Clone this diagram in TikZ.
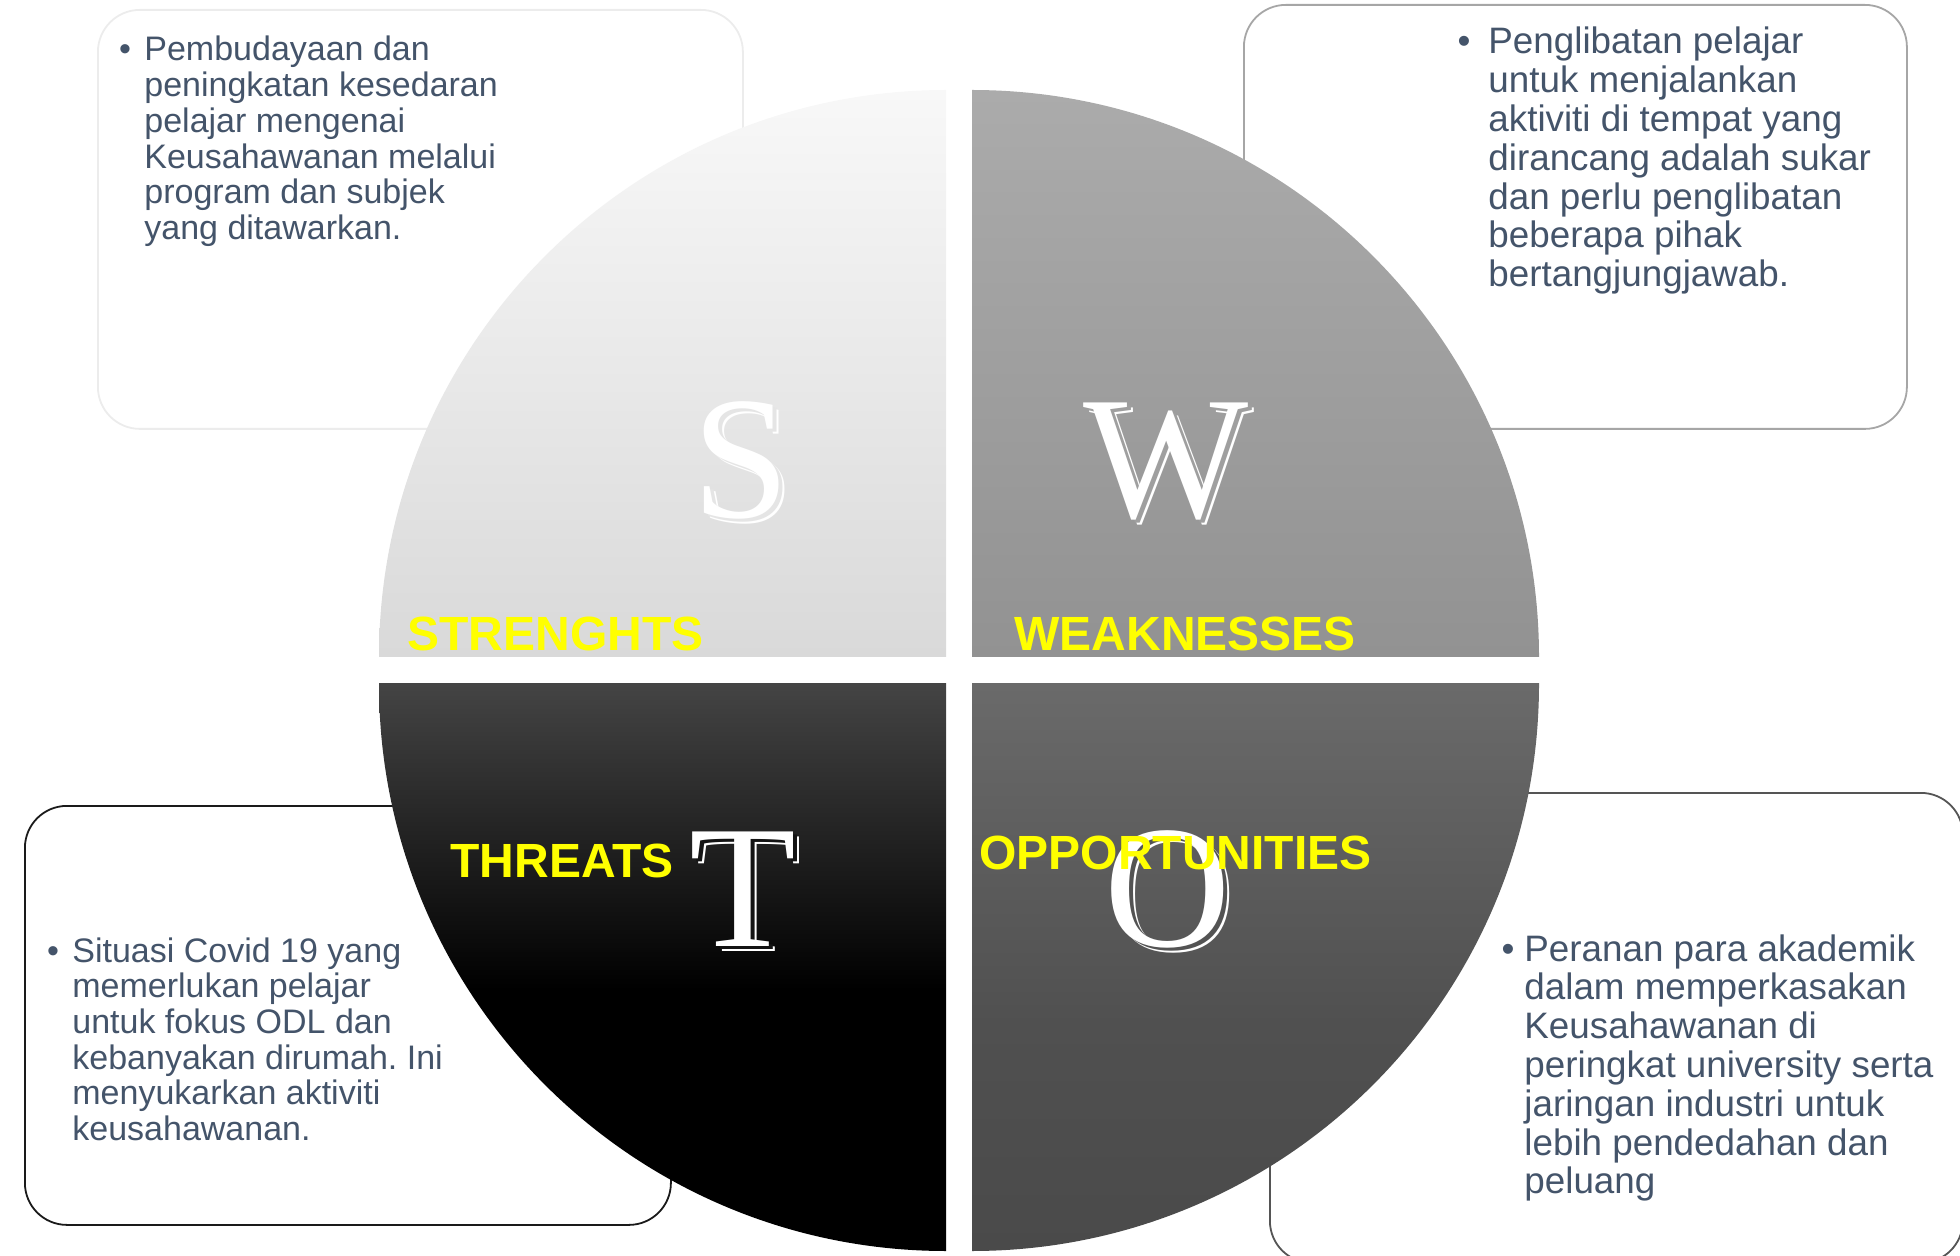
\documentclass[tikz,border=0pt]{standalone}
\usepackage{fontspec}
\setmainfont{Liberation Sans}
\newfontfamily\letterfont{Liberation Serif}
\frenchspacing
\definecolor{txt}{HTML}{44546A}
\definecolor{yel}{HTML}{FFFF00}
\definecolor{sTop}{HTML}{F8F8F8}
\definecolor{sBot}{HTML}{D9D9D9}
\definecolor{wTop}{HTML}{ABABAB}
\definecolor{wBot}{HTML}{929292}
\definecolor{tTop}{HTML}{444444}
\definecolor{oTop}{HTML}{6A6A6A}
\definecolor{oMid}{HTML}{505050}
\definecolor{oBot}{HTML}{4A4A4A}
\definecolor{boxS}{HTML}{ECECEC}
\definecolor{boxW}{HTML}{A6A6A6}
\definecolor{boxT}{HTML}{1A1A1A}
\definecolor{boxO}{HTML}{555555}
\pgfdeclareverticalshading{tshade}{100bp}{color(0bp)=(black); color(25bp)=(black); color(48bp)=(black); color(75bp)=(tTop); color(100bp)=(tTop)}
\pgfdeclareverticalshading{oshade}{100bp}{color(0bp)=(oBot); color(25bp)=(oBot); color(45bp)=(oMid); color(75bp)=(oTop); color(100bp)=(oTop)}
% one letter with a white offset outline behind it
\newcommand{\shadowlet}[2]{\makebox[0pt][l]{\hspace{3pt}\raisebox{-2.5pt}{\textcolor{white}{#1}}}\makebox[0pt][l]{\hspace{2pt}\raisebox{-1.5pt}{\textcolor{#2}{#1}}}\textcolor{white}{#1}}
\tikzset{
  panel/.style={rounded corners=21pt, fill=white, line width=0.9pt, anchor=north west, inner sep=0pt},
  smallbody/.style={inner sep=0pt, anchor=base west, text=txt, font=\fontsize{17}{17.85}\selectfont},
  bigbody/.style={inner sep=0pt, anchor=base west, text=txt, font=\fontsize{18.4}{19.4}\selectfont},
  smallbullet/.style={inner sep=0pt, anchor=base, text=txt, font=\fontsize{17}{17.85}\selectfont},
  bigbullet/.style={inner sep=0pt, anchor=base, text=txt, font=\fontsize{18.4}{19.4}\selectfont},
  quadlabel/.style={inner sep=0pt, anchor=base west, text=yel, font=\fontsize{24}{28}\selectfont\bfseries},
  bigletter/.style={inner sep=0pt, anchor=base, font=\fontsize{87.5}{90}\selectfont\letterfont},
}
\begin{document}
\begin{tikzpicture}[x=0.5pt,y=-0.5pt]
\useasboundingbox (0,0) rectangle (1960,1256);
% text panels (behind the disc)
\node[panel, draw=boxS, minimum width=322.5pt, minimum height=209.5pt] (pS) at (97,9) {};
\node[panel, draw=boxW, minimum width=331.5pt, minimum height=212pt] (pW) at (1243,4) {};
\node[panel, draw=boxT, minimum width=323pt, minimum height=209.5pt] (pT) at (24,805) {};
\node[panel, draw=boxO, minimum width=346.5pt, minimum height=235pt] (pO) at (1269,792) {};
% quadrants
\begin{scope}
  \clip (946,657) circle[radius=567];
  \shade[top color=sTop, bottom color=sBot] (379,90) rectangle (946,657);
\end{scope}
\begin{scope}
  \clip (972,657) circle[radius=567];
  \shade[top color=wTop, bottom color=wBot] (972,90) rectangle (1539,657);
\end{scope}
\begin{scope}
  \clip (946,684) circle[radius=567];
  \shade[shading=tshade] (379,684) rectangle (946,1251);
\end{scope}
\begin{scope}
  \clip (972,684) circle[radius=567];
  \shade[shading=oshade] (972,684) rectangle (1539,1251);
\end{scope}
% big letters with shadow outline
\node[bigletter] (sL) at (741,518) {\shadowlet{S}{sBot!60!sTop}};
\node[bigletter] (wL) at (1166,518) {\shadowlet{W}{wTop!50!wBot}};
\node[bigletter] (tL) at (743,946) {\shadowlet{T}{black!92}};
\node[bigletter] (oL) at (1168,946) {\shadowlet{O}{oMid!90!oTop}};
% quadrant labels
\node[quadlabel] (lS) at (407,651) {STRENGHTS};
\node[quadlabel] (lW) at (1014,651) {WEAKNESSES};
\node[quadlabel] (lT) at (450,877) {THREATS};
\node[quadlabel] (lO) at (979,869) {OPPORTUNITIES};
% panel texts
\node[smallbullet] (bS) at (125,61) {•};
\node[smallbody] (tXS) at (144,61) {\parbox[t]{300pt}{\raggedright Pembudayaan dan\\peningkatan kesedaran\\pelajar mengenai\\Keusahawanan melalui\\program dan subjek\\yang ditawarkan.}};
\node[bigbullet] (bW) at (1464,54) {•};
\node[bigbody] (tXW) at (1488,54) {\parbox[t]{300pt}{\raggedright Penglibatan pelajar\\untuk menjalankan\\aktiviti di tempat yang\\dirancang adalah sukar\\dan perlu penglibatan\\beberapa pihak\\bertangjungjawab.}};
\node[smallbullet] (bT) at (53,962) {•};
\node[smallbody] (tXT) at (72,962) {\parbox[t]{300pt}{\raggedright Situasi Covid 19 yang\\memerlukan pelajar\\untuk fokus ODL dan\\kebanyakan dirumah. Ini\\menyukarkan aktiviti\\keusahawanan.}};
\node[bigbullet] (bO) at (1508,961) {•};
\node[bigbody] (tXO) at (1524,961) {\parbox[t]{300pt}{\raggedright Peranan para akademik\\dalam memperkasakan\\Keusahawanan di\\peringkat university serta\\jaringan industri untuk\\lebih pendedahan dan\\peluang}};
\end{tikzpicture}
\end{document}
